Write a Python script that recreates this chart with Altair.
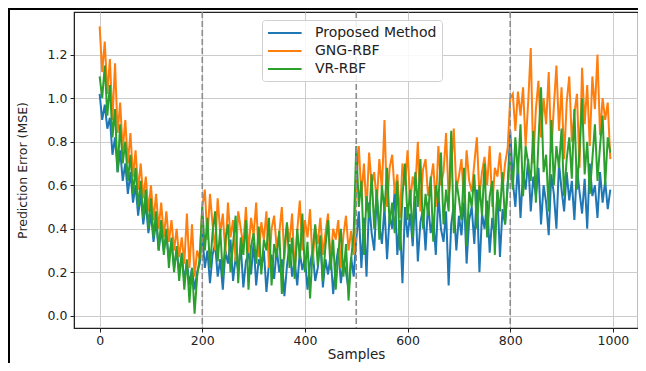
import altair as alt
import pandas as pd

SAMPLE_STEP = 5
SERIES = ["Proposed Method", "GNG-RBF", "VR-RBF"]
COLORS = ["#1f77b4", "#ff7f0e", "#2ca02c"]
REGIME_CHANGES = [200, 500, 800]
X_TICKS = [0, 200, 400, 600, 800, 1000]
Y_TICKS = [0.0, 0.2, 0.4, 0.6, 0.8, 1.0, 1.2]

# Proposed Method (blue), one value every 5 samples
proposed = [
    1.02, 0.90, 0.97, 0.86, 0.91, 0.74, 0.82, 0.66, 0.76, 0.62,
    0.70, 0.56, 0.66, 0.52, 0.60, 0.46, 0.56, 0.42, 0.52, 0.38,
    0.47, 0.34, 0.44, 0.30, 0.40, 0.30, 0.37, 0.26, 0.34, 0.22,
    0.30, 0.20, 0.28, 0.16, 0.25, 0.14, 0.22, 0.12, 0.20, 0.24,
    0.38, 0.22, 0.30, 0.15, 0.28, 0.33, 0.18, 0.26, 0.12, 0.30,
    0.24, 0.35, 0.16, 0.27, 0.21, 0.32, 0.13, 0.25, 0.29, 0.19,
    0.34, 0.14, 0.26, 0.22, 0.30, 0.11, 0.24, 0.28, 0.17, 0.31,
    0.20, 0.26, 0.09, 0.23, 0.33, 0.18, 0.25, 0.14, 0.29, 0.21,
    0.27, 0.12, 0.24, 0.30, 0.16, 0.22, 0.35, 0.13, 0.26, 0.19,
    0.28, 0.10, 0.23, 0.31, 0.15, 0.25, 0.20, 0.12, 0.27, 0.18,
    0.35, 0.48, 0.22, 0.45, 0.18, 0.52, 0.38, 0.30, 0.55, 0.42,
    0.33, 0.50, 0.26, 0.46, 0.40, 0.58, 0.28, 0.44, 0.15, 0.50,
    0.36, 0.47, 0.32, 0.55, 0.25, 0.43, 0.49, 0.30, 0.52, 0.38,
    0.45, 0.28, 0.56, 0.40, 0.34, 0.48, 0.14, 0.42, 0.51, 0.30,
    0.46, 0.37, 0.55, 0.24, 0.44, 0.50, 0.33, 0.58, 0.20, 0.47,
    0.40, 0.53, 0.29, 0.45, 0.36, 0.57, 0.27, 0.49, 0.42, 0.60,
    0.85, 0.62, 0.50, 0.70, 0.45, 0.66, 0.58, 0.72, 0.48, 0.64,
    0.55, 0.68, 0.42, 0.60, 0.52, 0.37, 0.65, 0.56, 0.40, 0.70,
    0.58, 0.48, 0.66, 0.53, 0.62, 0.44, 0.68, 0.57, 0.47, 0.63,
    0.40, 0.70, 0.55, 0.60, 0.45, 0.66, 0.52, 0.62, 0.49, 0.58,
]

# GNG-RBF (orange)
gng_rbf = [
    1.33, 1.12, 1.26, 1.02, 1.18, 0.90, 1.16, 0.84, 0.98, 0.76,
    0.90, 0.70, 0.84, 0.64, 0.76, 0.58, 0.70, 0.54, 0.64, 0.48,
    0.60, 0.44, 0.56, 0.40, 0.52, 0.36, 0.48, 0.34, 0.44, 0.30,
    0.40, 0.27, 0.36, 0.24, 0.47, 0.22, 0.42, 0.18, 0.30, 0.26,
    0.50, 0.58, 0.35, 0.56, 0.42, 0.30, 0.54, 0.38, 0.47, 0.28,
    0.52, 0.36, 0.44, 0.25, 0.48, 0.40, 0.32, 0.50, 0.29, 0.45,
    0.37, 0.52, 0.27, 0.43, 0.35, 0.48, 0.22, 0.40, 0.46, 0.31,
    0.38, 0.50, 0.26, 0.42, 0.34, 0.47, 0.20, 0.39, 0.53, 0.30,
    0.44, 0.36, 0.49, 0.24, 0.41, 0.33, 0.45, 0.28, 0.38, 0.47,
    0.25, 0.40, 0.35, 0.44, 0.22, 0.37, 0.46, 0.30, 0.39, 0.28,
    0.62, 0.78, 0.55, 0.70, 0.48, 0.75, 0.60, 0.66, 0.52, 0.72,
    0.58, 0.90, 0.50, 0.68, 0.74, 0.56, 0.65, 0.45, 0.70, 0.60,
    0.76, 0.52, 0.64, 0.58, 0.80, 0.48, 0.67, 0.72, 0.55, 0.62,
    0.70, 0.50, 0.78, 0.60, 0.66, 0.84, 0.54, 0.68, 0.86, 0.58,
    0.64, 0.72, 0.52, 0.76, 0.62, 0.57, 0.70, 0.82, 0.55, 0.66,
    0.73, 0.60, 0.78, 0.50, 0.68, 0.64, 0.75, 0.58, 0.70, 0.77,
    1.00, 1.02, 0.85, 1.03, 0.92, 1.05, 0.78, 0.98, 1.23, 0.70,
    0.95, 1.08, 0.82, 1.00, 0.88, 1.12, 0.75, 0.96, 1.15, 0.85,
    1.05, 0.72, 0.98, 1.10, 0.80, 0.93, 1.02, 0.68, 1.14, 0.88,
    1.06, 0.78, 1.10, 0.95, 1.20, 0.83, 1.00, 0.90, 0.98, 0.72,
]

# VR-RBF (green)
vr_rbf = [
    1.10, 1.00, 1.15, 0.92, 1.06, 0.82, 0.95, 0.66, 0.88, 0.70,
    0.80, 0.62, 0.74, 0.56, 0.68, 0.50, 0.62, 0.45, 0.58, 0.40,
    0.54, 0.36, 0.48, 0.30, 0.44, 0.28, 0.40, 0.22, 0.36, 0.20,
    0.32, 0.16, 0.29, 0.12, 0.26, 0.06, 0.22, 0.01, 0.18, 0.27,
    0.50, 0.30, 0.45, 0.22, 0.38, 0.48, 0.25, 0.40, 0.18, 0.35,
    0.42, 0.20, 0.33, 0.46, 0.15, 0.36, 0.28, 0.44, 0.12, 0.32,
    0.38, 0.24, 0.41, 0.19, 0.35, 0.30, 0.45, 0.14, 0.33, 0.27,
    0.39, 0.10, 0.31, 0.43, 0.22, 0.36, 0.17, 0.40, 0.26, 0.47,
    0.20, 0.34, 0.08, 0.30, 0.42, 0.23, 0.37, 0.16, 0.32, 0.44,
    0.21, 0.35, 0.12, 0.29, 0.40, 0.18, 0.33, 0.07, 0.26, 0.38,
    0.78, 0.50, 0.62, 0.28, 0.55, 0.45, 0.65, 0.40, 0.58, 0.35,
    0.60, 0.48, 0.68, 0.42, 0.52, 0.38, 0.62, 0.30, 0.55, 0.70,
    0.44, 0.58, 0.36, 0.66, 0.50, 0.72, 0.40, 0.56, 0.46, 0.64,
    0.34, 0.60, 0.52, 0.75, 0.42, 0.58, 0.48, 0.85, 0.38, 0.62,
    0.54, 0.44, 0.68, 0.32, 0.57, 0.50, 0.65, 0.40, 0.60, 0.46,
    0.70, 0.36, 0.55, 0.62, 0.28, 0.58, 0.48, 0.66, 0.42, 0.60,
    0.75, 0.58, 0.82, 0.65, 0.88, 0.55, 0.78, 0.70, 0.62, 0.85,
    0.52, 0.80, 1.05, 0.66, 0.74, 0.48, 0.90, 0.60, 0.78, 0.68,
    0.86, 0.55, 0.72, 0.82, 0.63, 0.95, 0.58, 0.76, 1.00, 0.65,
    0.80, 0.56, 0.72, 0.88, 0.62, 0.78, 0.92, 0.60, 0.82, 0.75,
]

samples = [i * SAMPLE_STEP for i in range(len(proposed))]
rows = []
for name, vals in zip(SERIES, [proposed, gng_rbf, vr_rbf]):
    for s, v in zip(samples, vals):
        rows.append({"sample": s, "mse": v, "series": name})
df = pd.DataFrame(rows)

FONT = "DejaVu Sans"

x_enc = alt.X(
    "sample:Q",
    scale=alt.Scale(domain=[-49.95, 1048.95], nice=False, zero=False),
    axis=alt.Axis(values=X_TICKS, format="d", title="Samples"),
)
y_enc = alt.Y(
    "mse:Q",
    scale=alt.Scale(domain=[-0.056, 1.396], nice=False, zero=False),
    axis=alt.Axis(values=Y_TICKS, format=".1f", title="Prediction Error (MSE)"),
)
color_enc = alt.Color(
    "series:N",
    sort=SERIES,
    scale=alt.Scale(domain=SERIES, range=COLORS),
    legend=alt.Legend(
        title=None,
        orient="none",
        legendX=188,
        legendY=8,
        symbolType="M-1,0H3.8",
        symbolSize=196,
        symbolStrokeWidth=2,
        labelOffset=32,
        labelFont=FONT,
        labelFontSize=14,
        labelColor="#222222",
        padding=5,
        rowPadding=3,
        fillColor="rgba(255,255,255,0.85)",
        strokeColor="#d0d0d0",
        cornerRadius=3,
    ),
)

base = alt.Chart(df).mark_line(strokeWidth=2).encode(x=x_enc, y=y_enc, color=color_enc)
line_layers = [base.transform_filter(alt.datum.series == n) for n in SERIES]

rules = alt.Chart(pd.DataFrame({"sample": REGIME_CHANGES})).mark_rule(
    color="#8c8c8c", strokeDash=[6, 3], strokeWidth=1.6
).encode(x="sample:Q")

left_border = alt.Chart(df).mark_rule(color="#000000", strokeWidth=1.5).encode(
    x=alt.value(-65.5), y=alt.value(-3.5), y2=alt.value(370)
)
top_border = alt.Chart(df).mark_rule(color="#000000", strokeWidth=1.5).encode(
    x=alt.value(-65.5), x2=alt.value(600), y=alt.value(-3.5)
)

chart = alt.layer(*line_layers, rules, left_border, top_border).properties(
    width=564,
    height=316,
    padding={"left": 66, "top": 4, "right": 0, "bottom": 35},
    autosize=alt.AutoSizeParams(type="none"),
).configure_view(
    stroke="#222222", strokeWidth=1.2
).configure_axis(
    grid=True,
    gridColor="#cccccc",
    gridWidth=1,
    domainColor="#222222",
    tickColor="#222222",
    tickSize=4,
    labelFont=FONT,
    labelFontSize=12.5,
    labelColor="#222222",
    labelPadding=2,
    titleFont=FONT,
    titleFontWeight="normal",
    titleColor="#222222",
).configure_axisX(
    titleFontSize=13.5, titlePadding=1
).configure_axisY(
    titleFontSize=12.5, titlePadding=18, labelPadding=3
)

chart.save("out.html", embed_options={"renderer": "svg", "actions": False})
